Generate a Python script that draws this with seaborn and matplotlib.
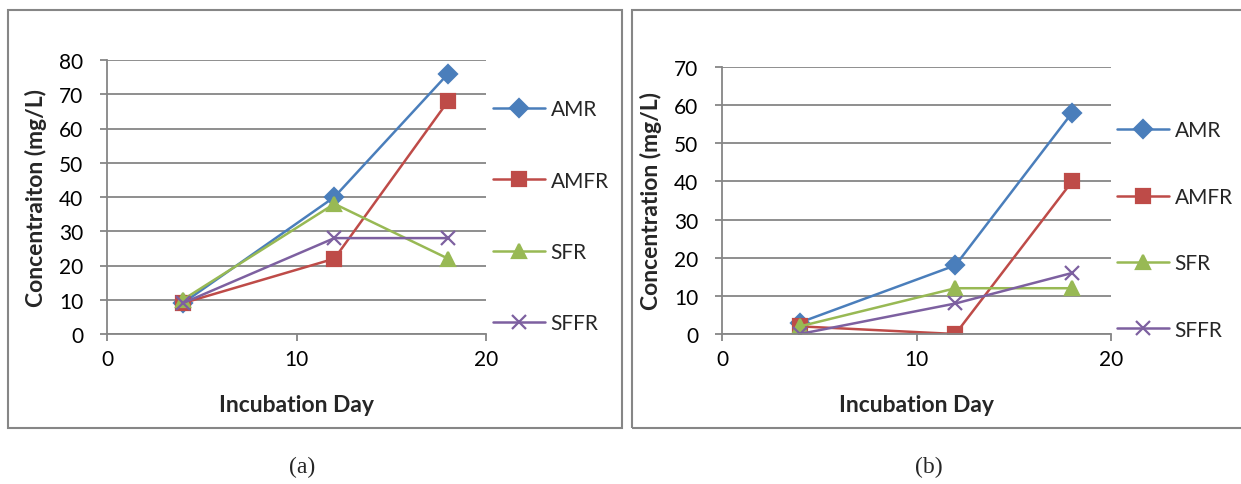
import matplotlib
matplotlib.use("Agg")
import matplotlib.pyplot as plt
import seaborn as sns
import pandas as pd
from matplotlib.patches import Rectangle
from matplotlib.lines import Line2D

days = [4, 12, 18]
series_names = ["AMR", "AMFR", "SFR", "SFFR"]
a_amr = [9, 40, 76]
a_amfr = [9, 22, 68]
a_sfr = [10, 38, 22]
a_sffr = [9, 28, 28]
b_amr = [3, 18, 58]
b_amfr = [2, 0, 40]
b_sfr = [2, 12, 12]
b_sffr = [0, 8, 16]

colors = ["#4A7EBB", "#BE4B48", "#98B954", "#7D60A0"]
markers = ["D", "s", "^", "x"]
msizes = [9.5, 9.5, 10, 9.5]

sns.set_theme(style="white")
plt.rcParams["font.family"] = ["Lato", "DejaVu Sans"]

fig = plt.figure(figsize=(12.41, 4.85), dpi=100)
W, H = 1241, 485
FS = 15
LFS = 16.5

def px_axes(x0, y_top, x1, y_bot):
    return fig.add_axes([x0 / W, 1 - y_bot / H, (x1 - x0) / W, (y_bot - y_top) / H])

grey = "#868686"

def draw(ax, vals, ymax, ylabel, leg_spacing, leg_anchor):
    for name, v, c, m, ms in zip(series_names, vals, colors, markers, msizes):
        df = pd.DataFrame({"day": days, "val": v})
        sns.lineplot(data=df, x="day", y="val", color=c, marker=m, markersize=ms,
                     markeredgecolor=c, markerfacecolor=c, markeredgewidth=1.6,
                     linewidth=1.8, ax=ax, legend=False)
    ax.set_xlim(0, 20)
    ax.set_ylim(0, ymax)
    ax.set_xticks([0, 10, 20])
    ax.set_yticks(range(0, ymax + 1, 10))
    ax.yaxis.grid(True, color=grey, linewidth=1.3)
    ax.xaxis.grid(False)
    ax.set_axisbelow(True)
    for s in ["top", "right"]:
        ax.spines[s].set_visible(False)
    for s in ["left", "bottom"]:
        ax.spines[s].set_color(grey)
        ax.spines[s].set_linewidth(1.3)
    ax.tick_params(axis="both", direction="out", length=5, width=1.3, color=grey,
                   labelsize=FS, labelcolor="black", bottom=True, left=True)
    ax.tick_params(axis="y", pad=12)
    ax.tick_params(axis="x", pad=6)
    ax.set_xlabel("Incubation Day", fontsize=LFS, fontweight="bold", labelpad=18)
    ax.set_ylabel(ylabel, fontsize=LFS, fontweight="bold", labelpad=9)
    handles = [Line2D([], [], color=c, marker=m, markersize=ms, linewidth=1.8,
                      markeredgecolor=c, markerfacecolor=c, markeredgewidth=1.6)
               for c, m, ms in zip(colors, markers, msizes)]
    ax.legend(handles, series_names, loc="upper left", bbox_to_anchor=leg_anchor,
              bbox_transform=fig.transFigure, frameon=False, fontsize=FS,
              labelspacing=leg_spacing, handlelength=2.5, handletextpad=0.25,
              borderaxespad=0)

ax1 = px_axes(107, 61, 486, 335)
draw(ax1, [a_amr, a_amfr, a_sfr, a_sffr], 80, "Concentraiton (mg/L)", 2.46,
     (485 / W, 1 - 92 / H))
ax2 = px_axes(722, 68, 1111, 335)
draw(ax2, [b_amr, b_amfr, b_sfr, b_sffr], 70, "Concentration (mg/L)", 2.23,
     (1109 / W, 1 - 113 / H))

fig.patches.append(Rectangle((8 / W, 1 - 429 / H), (622 - 8) / W, (429 - 11) / H,
                             transform=fig.transFigure, fill=False,
                             edgecolor=grey, linewidth=1.5))
fig.patches.append(Rectangle((632 / W, 1 - 429 / H), (1250 - 632) / W, (429 - 11) / H,
                             transform=fig.transFigure, fill=False,
                             edgecolor=grey, linewidth=1.5, clip_on=False))

fig.text(302 / W, 1 - 467 / H, "(a)", ha="center", va="center", fontsize=17,
         family=["Liberation Serif"])
fig.text(929 / W, 1 - 467 / H, "(b)", ha="center", va="center", fontsize=17,
         family=["Liberation Serif"])

fig.savefig("out.png", dpi=100)
